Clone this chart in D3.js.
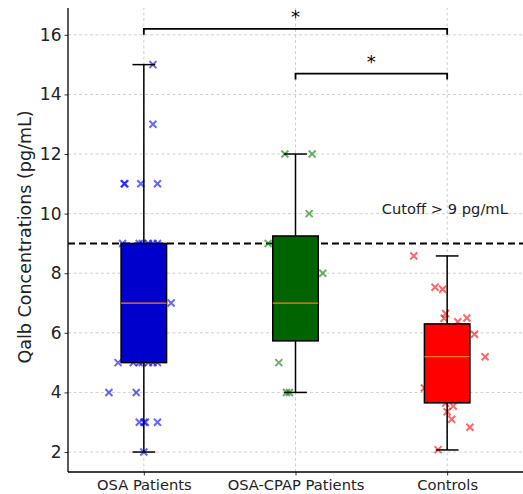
<!DOCTYPE html>
<html lang="en">
<head>
<meta charset="UTF-8">
<script src="https://cdn.jsdelivr.net/npm/d3@7"></script>
<title>Qalb boxplot</title>
<style>
    body { margin: 0; background: white; }
    svg { display: block; font-family: "DejaVu Sans", sans-serif; }
</style>
</head>
<body>
<div id="chart"></div>
<script>
    /*---------------- data ----------------*/
    const categories = ["OSA Patients", "OSA-CPAP Patients", "Controls"];

    // box summaries
    const whiskerLow  = [2, 4, 2.07];
    const q1          = [5, 5.73, 3.65];
    const medians     = [7, 7, 5.2];
    const q3          = [9, 9.25, 6.3];
    const whiskerHigh = [15, 12, 8.58];

    // individual points (value, horizontal jitter in category units)
    const osaValues  = [15, 13, 11, 11, 11, 11, 9, 9, 9, 9, 9, 9, 7, 5, 5, 5, 5, 5, 5, 5, 4, 4, 3, 3, 3, 3, 2];
    const osaJitter  = [0.06, 0.06, -0.13, -0.125, -0.02, 0.09, -0.14, -0.03, -0.01, 0.03, 0.06, 0.09, 0.18,
                        -0.17, -0.07, -0.03, -0.01, 0.03, 0.06, 0.09, -0.23, -0.05, -0.03, 0.0, 0.01, 0.09, 0.0];
    const cpapValues = [12, 12, 10, 9, 8, 5, 4, 4];
    const cpapJitter = [-0.07, 0.11, 0.09, -0.18, 0.18, -0.11, -0.06, -0.04];
    const ctrlValues = [8.58, 7.53, 7.46, 6.65, 6.49, 6.5, 6.37, 5.95, 5.2, 4.15, 3.64, 3.54, 3.35, 3.1, 2.83, 2.08];
    const ctrlJitter = [-0.22, -0.08, -0.03, -0.01, -0.02, 0.13, 0.07, 0.18, 0.25, -0.15, -0.01, 0.04, 0.0, 0.03, 0.15, -0.06];

    const boxColors   = ["#0000cd", "#006400", "#ff0000"];
    const pointColors = ["blue", "green", "red"];

    const cutoff = 9;
    const cutoffLabel = "Cutoff > 9 pg/mL";

    // significance brackets: [from, to, height]
    const brackets = [[1, 3, 16.2], [2, 3, 14.7]];
    const bracketLabels = ["*", "*"];

    const yTicks = [2, 4, 6, 8, 10, 12, 14, 16];

    /*---------------- layout ----------------*/
    const width = 523, height = 494;
    const margin = {top: 8, right: 0, bottom: 22, left: 68};

    const svg = d3.select("#chart").append("svg")
        .attr("width", width)
        .attr("height", height);

    const x = d3.scaleLinear().domain([0.5, 3.5]).range([margin.left, width - margin.right]);
    const y = d3.scaleLinear().domain([1.33, 16.9]).range([height - margin.bottom, margin.top]);

    // grid
    const grid = svg.append("g").attr("stroke", "#c4c4c4").attr("stroke-width", 0.8)
        .attr("stroke-dasharray", "3,2.5");
    grid.selectAll(".hg").data(yTicks).enter().append("line")
        .attr("x1", x(0.5)).attr("x2", x(3.5))
        .attr("y1", d => y(d)).attr("y2", d => y(d));
    grid.selectAll(".vg").data(categories).enter().append("line")
        .attr("x1", (d, i) => x(i + 1)).attr("x2", (d, i) => x(i + 1))
        .attr("y1", y.range()[0]).attr("y2", y.range()[1]);

    // cutoff line
    svg.append("line")
        .attr("x1", x(0.5)).attr("x2", x(3.5))
        .attr("y1", y(cutoff)).attr("y2", y(cutoff))
        .attr("stroke", "black").attr("stroke-width", 2)
        .attr("stroke-dasharray", "7,4");
    svg.append("text")
        .attr("x", x(3.4)).attr("y", y(10))
        .attr("text-anchor", "end")
        .attr("font-size", "14.7px")
        .attr("fill", "#222")
        .text(cutoffLabel);

    // scatter points
    const groups = [
        {values: osaValues, jitter: osaJitter},
        {values: cpapValues, jitter: cpapJitter},
        {values: ctrlValues, jitter: ctrlJitter}
    ];
    const cross = "M-3.5,-3.5L3.5,3.5M-3.5,3.5L3.5,-3.5";
    groups.forEach((g, i) => {
        svg.append("g").selectAll("path")
            .data(g.values).enter().append("path")
            .attr("d", cross)
            .attr("transform", (v, j) => `translate(${x(i + 1 + g.jitter[j])},${y(v)})`)
            .attr("stroke", pointColors[i])
            .attr("stroke-width", 2)
            .attr("stroke-opacity", 0.6)
            .attr("fill", "none");
    });

    // boxes
    const boxHalf = 0.15, capHalf = 0.075;
    const boxes = svg.append("g").selectAll("g").data(categories).enter().append("g");
    boxes.append("line")
        .attr("x1", (d, i) => x(i + 1)).attr("x2", (d, i) => x(i + 1))
        .attr("y1", (d, i) => y(q3[i])).attr("y2", (d, i) => y(whiskerHigh[i]))
        .attr("stroke", "black").attr("stroke-width", 1.5);
    boxes.append("line")
        .attr("x1", (d, i) => x(i + 1)).attr("x2", (d, i) => x(i + 1))
        .attr("y1", (d, i) => y(q1[i])).attr("y2", (d, i) => y(whiskerLow[i]))
        .attr("stroke", "black").attr("stroke-width", 1.5);
    boxes.append("line")
        .attr("x1", (d, i) => x(i + 1 - capHalf)).attr("x2", (d, i) => x(i + 1 + capHalf))
        .attr("y1", (d, i) => y(whiskerHigh[i])).attr("y2", (d, i) => y(whiskerHigh[i]))
        .attr("stroke", "black").attr("stroke-width", 1.5);
    boxes.append("line")
        .attr("x1", (d, i) => x(i + 1 - capHalf)).attr("x2", (d, i) => x(i + 1 + capHalf))
        .attr("y1", (d, i) => y(whiskerLow[i])).attr("y2", (d, i) => y(whiskerLow[i]))
        .attr("stroke", "black").attr("stroke-width", 1.5);
    boxes.append("rect")
        .attr("x", (d, i) => x(i + 1 - boxHalf))
        .attr("width", x(1 + boxHalf) - x(1 - boxHalf))
        .attr("y", (d, i) => y(q3[i]))
        .attr("height", (d, i) => y(q1[i]) - y(q3[i]))
        .attr("fill", (d, i) => boxColors[i])
        .attr("stroke", "black").attr("stroke-width", 1.5);
    boxes.append("line")
        .attr("x1", (d, i) => x(i + 1 - boxHalf)).attr("x2", (d, i) => x(i + 1 + boxHalf))
        .attr("y1", (d, i) => y(medians[i])).attr("y2", (d, i) => y(medians[i]))
        .attr("stroke", "#ff7f0e").attr("stroke-width", 1.2);

    // significance brackets
    const br = svg.append("g");
    brackets.forEach((b, i) => {
        br.append("path")
            .attr("d", `M${x(b[0])},${y(b[2] - 0.2)}V${y(b[2])}H${x(b[1])}V${y(b[2] - 0.2)}`)
            .attr("fill", "none").attr("stroke", "black").attr("stroke-width", 1.8);
        br.append("text")
            .attr("x", x((b[0] + b[1]) / 2)).attr("y", y(b[2] + 0.2))
            .attr("text-anchor", "middle")
            .attr("font-size", "18px")
            .text(bracketLabels[i]);
    });

    // axes
    const yAxis = svg.append("g")
        .attr("transform", `translate(${margin.left},0)`)
        .call(d3.axisLeft(y).tickValues(yTicks).tickSize(3.5).tickPadding(3));
    const xAxis = svg.append("g")
        .attr("transform", `translate(0,${height - margin.bottom})`)
        .call(d3.axisBottom(x).tickValues([1, 2, 3]).tickFormat((d, i) => categories[i]).tickSize(3.5).tickPadding(4));
    [yAxis, xAxis].forEach(a => {
        a.select(".domain").attr("stroke-width", 1.3);
        a.selectAll(".tick line").attr("stroke-width", 0.8);
        a.selectAll("text").attr("font-family", "DejaVu Sans").attr("fill", "#222");
    });
    yAxis.select(".domain").attr("d", `M0,${y.range()[0]}V${y.range()[1]}`);
    xAxis.select(".domain").attr("d", `M${x.range()[0]},0H${x.range()[1]}`);
    yAxis.selectAll("text").attr("font-size", "17px");
    xAxis.selectAll("text").attr("font-size", "14.7px");

    svg.append("text")
        .attr("transform", `translate(25,${(y.range()[0] + y.range()[1]) / 2 - 3}) rotate(-90)`)
        .attr("text-anchor", "middle")
        .attr("dominant-baseline", "central")
        .attr("font-size", "17.5px")
        .attr("fill", "#222")
        .text("Qalb Concentrations (pg/mL)");
</script>
</body>
</html>
